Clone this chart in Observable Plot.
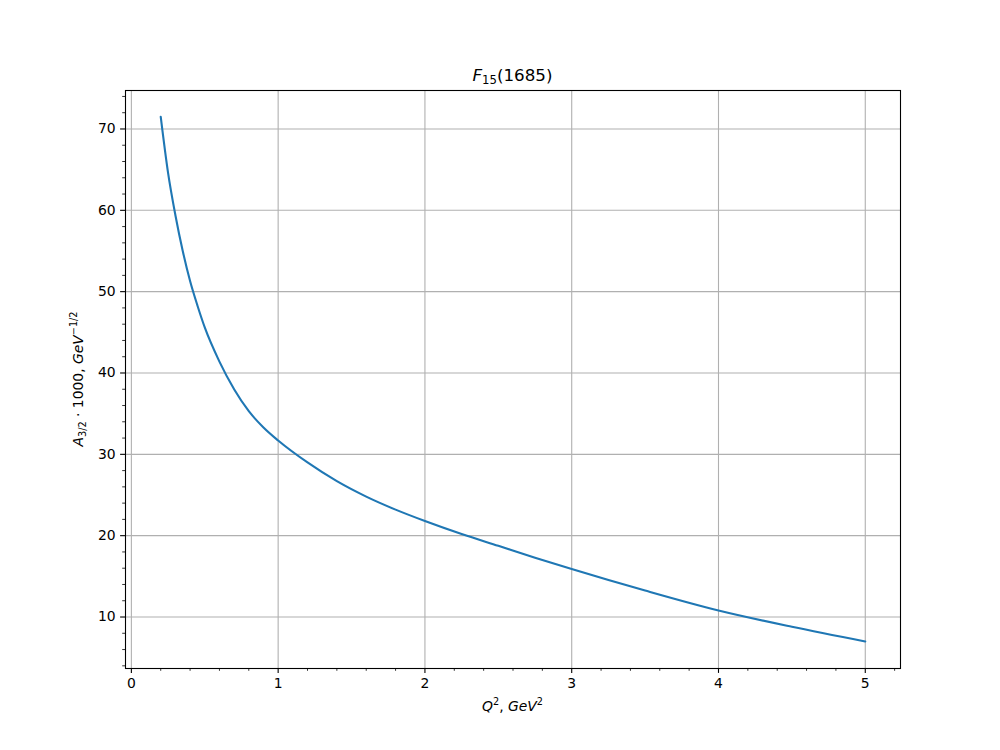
<!DOCTYPE html>
<html>
<head>
<meta charset="utf-8">
<script src="https://cdn.jsdelivr.net/npm/d3@7"></script>
<script src="https://cdn.jsdelivr.net/npm/@observablehq/plot@0.6"></script>
<style>
  html, body { margin: 0; padding: 0; background: white; }
  #chart svg { display: block; }
</style>
</head>
<body>
<div id="chart"></div>
<script>
// Q^2 (GeV^2) values and A_{3/2}*1000
const q2 = [0.2, 0.25, 0.3, 0.35, 0.4, 0.45, 0.5, 0.6, 0.7, 0.8, 0.9, 1.0, 1.2, 1.4, 1.6, 1.8, 2.0, 2.25, 2.5, 2.75, 3.0, 3.5, 4.0, 4.5, 5.0];
const a32 = [71.5, 64.6, 59.4, 55.0, 51.3, 48.3, 45.6, 41.4, 38.0, 35.3, 33.3, 31.7, 29.0, 26.7, 24.8, 23.2, 21.8, 20.2, 18.75, 17.3, 15.9, 13.25, 10.8, 8.8, 7.0];

const xTicks = [0, 1, 2, 3, 4, 5];
const yTicks = [10, 20, 30, 40, 50, 60, 70];
const xMinor = d3.range(0, 5.21, 0.2).map(v => +v.toFixed(1)).filter(v => !xTicks.includes(v));
const yMinor = d3.range(4, 75, 2).filter(v => !yTicks.includes(v));

const data = q2.map((q, i) => ({q, a: a32[i]}));

const W = 1000, H = 750, ML = 125, MR = 100, MT = 90, MB = 82;

const chart = Plot.plot({
  width: W,
  height: H,
  marginLeft: ML,
  marginRight: MR,
  marginTop: MT,
  marginBottom: MB,
  style: {fontFamily: "DejaVu Sans", fontSize: "13.9px", background: "white", color: "black"},
  x: {domain: [-0.04, 5.24]},
  y: {domain: [3.67, 74.73]},
  marks: [
    Plot.gridX(xTicks, {stroke: "#b0b0b0", strokeOpacity: 1, strokeWidth: 1.1}),
    Plot.gridY(yTicks, {stroke: "#b0b0b0", strokeOpacity: 1, strokeWidth: 1.1}),
    Plot.line(data, {x: "q", y: "a", stroke: "#1f77b4", strokeWidth: 2.1, curve: "monotone-x"}),
    Plot.frame({stroke: "black", strokeWidth: 1.1}),
    Plot.axisX(xTicks, {tickSize: 4.9, tickPadding: 5, label: null, strokeWidth: 1.1, tickFormat: d => String(d)}),
    Plot.axisX(xMinor, {tickSize: 2.8, text: null, label: null, strokeWidth: 0.8}),
    Plot.axisY(yTicks, {tickSize: 4.9, tickPadding: 5, label: null, strokeWidth: 1.1, tickFormat: d => String(d)}),
    Plot.axisY(yMinor, {tickSize: 2.8, text: null, label: null, strokeWidth: 0.8})
  ]
});

document.getElementById("chart").appendChild(chart);

const svg = d3.select(chart);
const cx = ML + (W - ML - MR) / 2;
const cy = MT + (H - MT - MB) / 2;

// Title: F_15(1685)
const title = svg.append("text")
  .attr("x", cx).attr("y", 81)
  .attr("text-anchor", "middle")
  .attr("font-family", "DejaVu Sans")
  .attr("font-size", 16.7)
  .attr("fill", "black");
title.append("tspan").attr("font-style", "italic").text("F");
title.append("tspan").attr("font-size", 11.7).attr("dy", 3).text("15");
title.append("tspan").attr("dy", -3).text("(1685)");

// X label: Q^2, GeV^2
const xl = svg.append("text")
  .attr("x", cx).attr("y", 711)
  .attr("text-anchor", "middle")
  .attr("font-family", "DejaVu Sans")
  .attr("font-size", 13.9)
  .attr("fill", "black");
xl.append("tspan").attr("font-style", "italic").text("Q");
xl.append("tspan").attr("font-size", 9.7).attr("dy", -6).text("2");
xl.append("tspan").attr("dy", 6).text(", ");
xl.append("tspan").attr("font-style", "italic").text("GeV");
xl.append("tspan").attr("font-size", 9.7).attr("dy", -6).text("2");

// Y label: A_{3/2} · 1000, GeV^{-1/2}
const yl = svg.append("text")
  .attr("transform", `translate(83,${cy}) rotate(-90)`)
  .attr("text-anchor", "middle")
  .attr("font-family", "DejaVu Sans")
  .attr("font-size", 13.9)
  .attr("fill", "black");
yl.append("tspan").attr("font-style", "italic").text("A");
yl.append("tspan").attr("font-size", 9.7).attr("dy", 3).text("3/2");
yl.append("tspan").attr("dy", -3).text(" \u00B7 1000, ");
yl.append("tspan").attr("font-style", "italic").text("GeV");
yl.append("tspan").attr("font-size", 9.7).attr("dy", -6).text("\u22121/2");
</script>
</body>
</html>
